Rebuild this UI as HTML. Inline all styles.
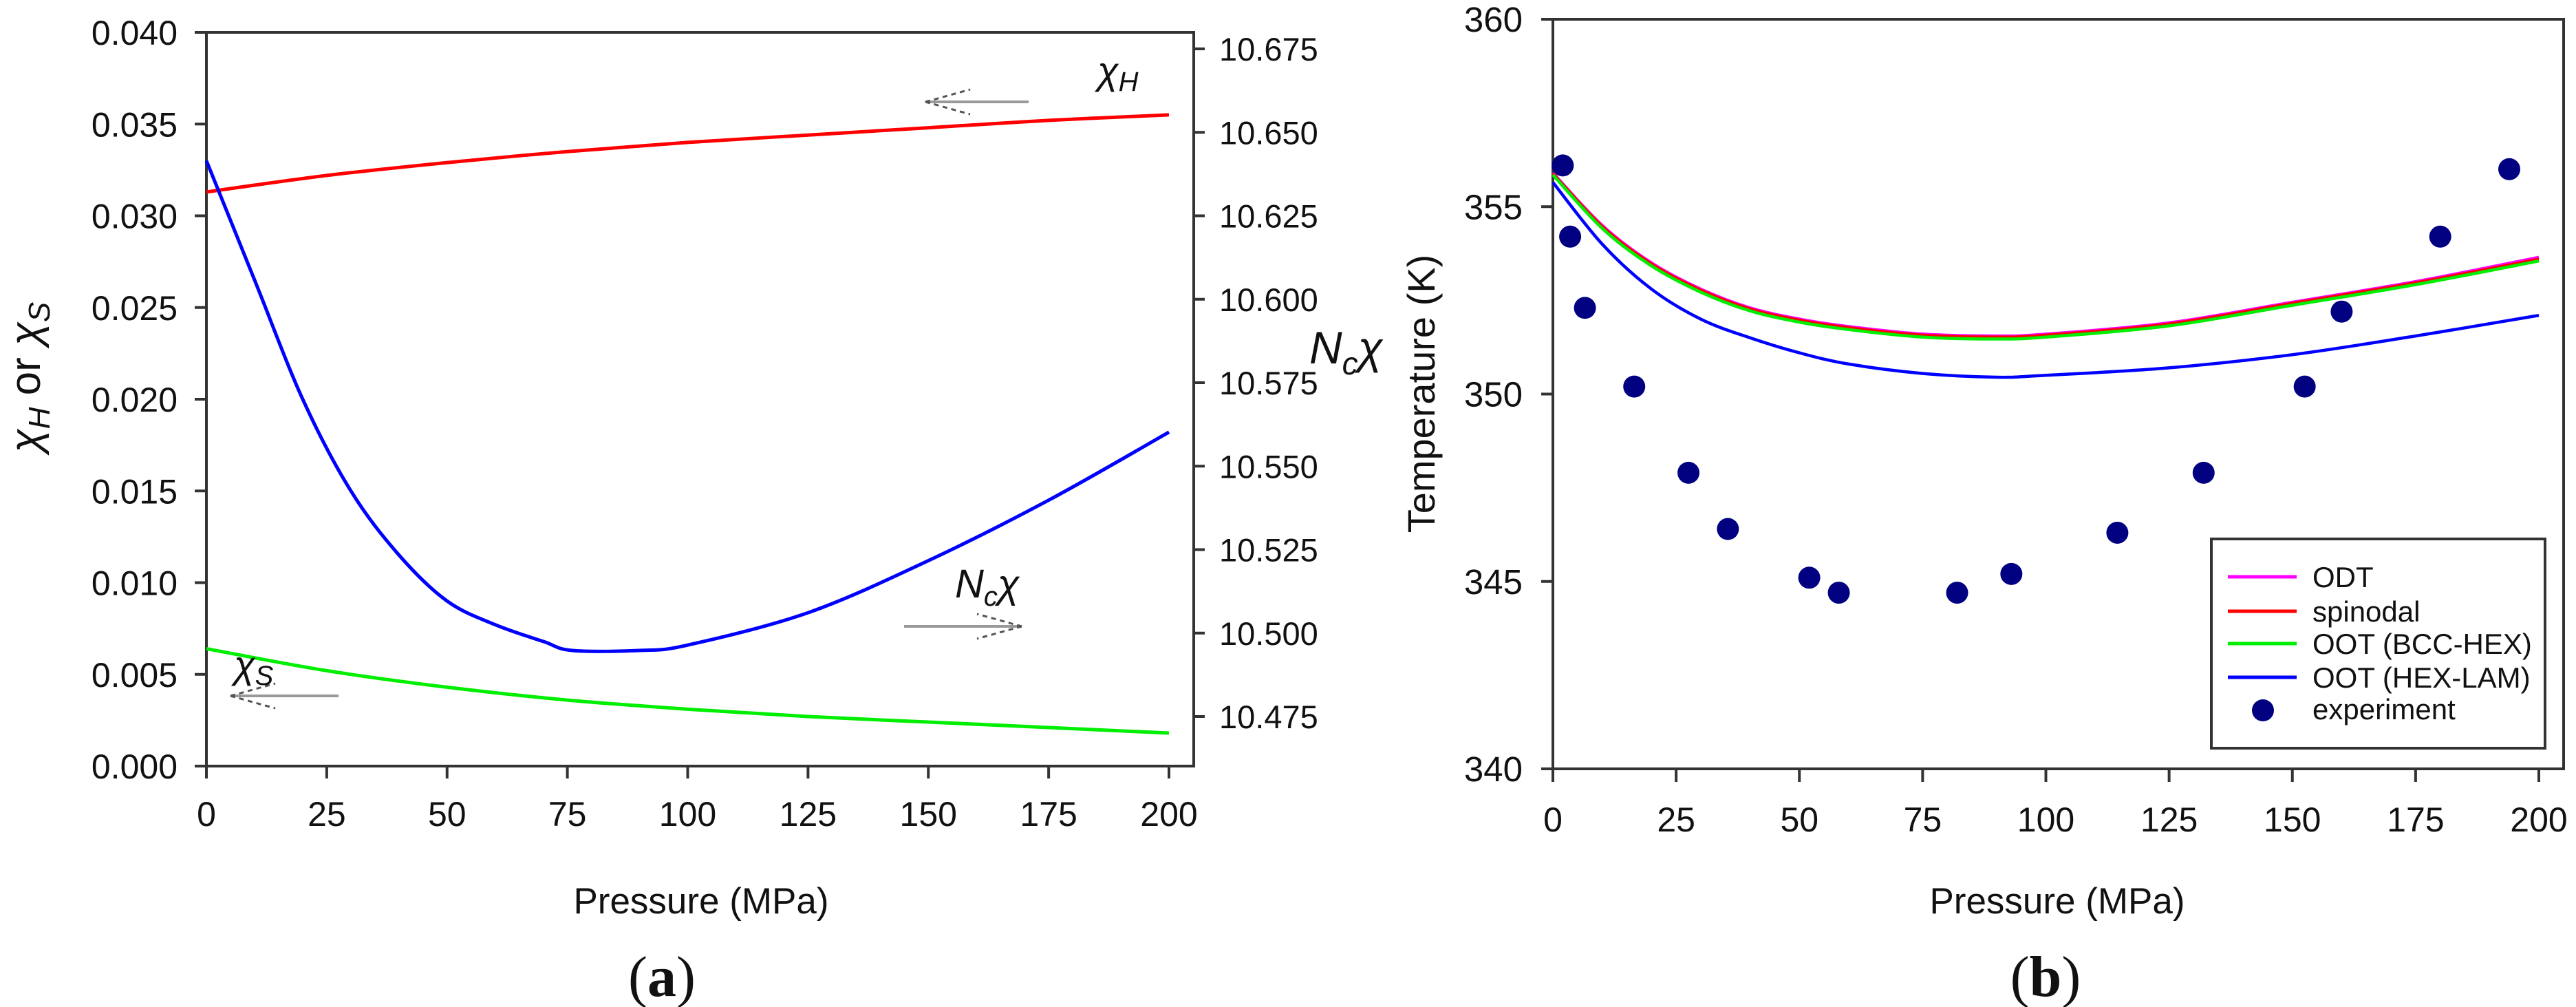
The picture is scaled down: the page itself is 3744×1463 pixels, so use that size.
<!DOCTYPE html>
<html><head><meta charset="utf-8">
<style>
html,body{margin:0;padding:0;background:#fff;}
svg{display:block;font-family:"Liberation Sans",Arial,sans-serif;}
</style></head>
<body>
<svg id="fig" width="3744" height="1463" viewBox="0 0 3744 1463" xmlns="http://www.w3.org/2000/svg">
  <rect width="3744" height="1463" fill="#fff"/>
  <g id="pa"></g>
  <g id="pb"></g>
</svg>
<script>
// ---------- Panel (a) data ----------
const aPressure = [0, 25, 50, 75, 100, 125, 150, 175, 200];
const chiH = [0.0313, 0.0322, 0.0329, 0.0335, 0.0340, 0.0344, 0.0348, 0.0352, 0.0355];
const chiS = [0.0064, 0.0052, 0.0043, 0.0036, 0.0031, 0.0027, 0.0024, 0.0021, 0.0018];
const ncPressure = [0, 10, 20, 30, 40, 50, 60, 70, 76, 90, 100, 125, 150, 175, 200];
const ncChi = [10.6415, 10.6058, 10.5701, 10.5426, 10.5234, 10.5096, 10.5025, 10.4975, 10.4948, 10.4948, 10.4964, 10.5061, 10.5217, 10.5398, 10.5602];
const aXTicks = [0, 25, 50, 75, 100, 125, 150, 175, 200];
const aYTicks = [0, 0.005, 0.010, 0.015, 0.020, 0.025, 0.030, 0.035, 0.040];
const aYTickLabels = ["0.000","0.005","0.010","0.015","0.020","0.025","0.030","0.035","0.040"];
const aY2Ticks = [10.475, 10.500, 10.525, 10.550, 10.575, 10.600, 10.625, 10.650, 10.675];
const aY2TickLabels = ["10.475","10.500","10.525","10.550","10.575","10.600","10.625","10.650","10.675"];

// ---------- Panel (b) data ----------
const bCurveP = [0, 10, 20, 30, 40, 50, 60, 75, 90, 100, 125, 150, 175, 200];
const odtT = [355.9, 354.5, 353.5, 352.8, 352.3, 352.0, 351.8, 351.6, 351.55, 351.6, 351.9, 352.45, 353.0, 353.65];
const spinodalT = [355.88, 354.47, 353.47, 352.77, 352.27, 351.97, 351.77, 351.57, 351.52, 351.57, 351.87, 352.42, 352.97, 353.6];
const bccHexT = [355.85, 354.42, 353.42, 352.72, 352.22, 351.92, 351.72, 351.52, 351.47, 351.52, 351.82, 352.37, 352.92, 353.55];
const hexLamT = [355.65, 354.0, 352.8, 352.0, 351.5, 351.1, 350.8, 350.55, 350.45, 350.5, 350.7, 351.05, 351.55, 352.1];
const expP = [2, 3.5, 6.5, 16.5, 27.5, 35.5, 52, 58, 82, 93, 114.5, 132, 152.5, 160, 180, 194];
const expT = [356.1, 354.2, 352.3, 350.2, 347.9, 346.4, 345.1, 344.7, 344.7, 345.2, 346.3, 347.9, 350.2, 352.2, 354.2, 356.0];
const bXTicks = [0, 25, 50, 75, 100, 125, 150, 175, 200];
const bYTicks = [340, 345, 350, 355, 360];
const bYTickLabels = ["340","345","350","355","360"];

const NS = "http://www.w3.org/2000/svg";
function mk(parent, tag, attrs, text) {
  const e = document.createElementNS(NS, tag);
  for (const k in attrs) e.setAttribute(k, attrs[k]);
  if (text !== undefined) e.textContent = text;
  parent.appendChild(e);
  return e;
}
function smoothPath(pts) {
  let d = "M" + pts[0][0].toFixed(1) + "," + pts[0][1].toFixed(1);
  for (let i = 0; i < pts.length - 1; i++) {
    const p0 = pts[Math.max(0, i - 1)], p1 = pts[i], p2 = pts[i + 1], p3 = pts[Math.min(pts.length - 1, i + 2)];
    const c1x = p1[0] + (p2[0] - p0[0]) / 6, c1y = p1[1] + (p2[1] - p0[1]) / 6;
    const c2x = p2[0] - (p3[0] - p1[0]) / 6, c2y = p2[1] - (p3[1] - p1[1]) / 6;
    d += " C" + c1x.toFixed(1) + "," + c1y.toFixed(1) + " " + c2x.toFixed(1) + "," + c2y.toFixed(1) + " " + p2[0].toFixed(1) + "," + p2[1].toFixed(1);
  }
  return d;
}
const AX = "#333";

// ================= Panel (a) =================
(function () {
  const g = document.getElementById("pa");
  const L = 300, R = 1735, T = 47, B = 1113, X0 = 300, X200 = 1699;
  const xa = p => X0 + (p / 200) * (X200 - X0);
  const ya = v => B - (v / 0.040) * (B - T);
  const ya2 = v => 71 + (10.675 - v) / 0.025 * 121.25;

  let e;
  e = mk(g, "rect", {x: L, y: T, width: R - L, height: B - T, fill: "none", stroke: AX, "stroke-width": 4});
  
  

  aXTicks.forEach(t => {
    const x = xa(t);
    e = mk(g, "line", {x1: x, y1: B, x2: x, y2: B + 18, stroke: AX, "stroke-width": 4});
    
    
    e = mk(g, "text", {x: x, y: 1200, "font-size": 50, "text-anchor": "middle", fill: "#111"}, String(t));
    
    
  });
  aYTicks.forEach((t, i) => {
    const y = ya(t);
    e = mk(g, "line", {x1: L - 17, y1: y, x2: L, y2: y, stroke: AX, "stroke-width": 4});
    
    
    e = mk(g, "text", {x: 258, y: y + 18, "font-size": 50, "text-anchor": "end", fill: "#111"}, aYTickLabels[i]);
    
    
  });
  aY2Ticks.forEach((t, i) => {
    const y = ya2(t);
    e = mk(g, "line", {x1: R, y1: y, x2: R + 16, y2: y, stroke: AX, "stroke-width": 4});
    
    
    e = mk(g, "text", {x: 1772, y: y + 17, "font-size": 47, "text-anchor": "start", fill: "#111"}, aY2TickLabels[i]);
    
    
  });

  e = mk(g, "path", {d: smoothPath(aPressure.map((p, i) => [xa(p), ya(chiH[i])])), fill: "none", stroke: "#ff0000", "stroke-width": 5});
  
  
  e = mk(g, "path", {d: smoothPath(aPressure.map((p, i) => [xa(p), ya(chiS[i])])), fill: "none", stroke: "#00ee00", "stroke-width": 5});
  
  
  e = mk(g, "path", {d: smoothPath(ncPressure.map((p, i) => [xa(p), ya2(ncChi[i])])), fill: "none", stroke: "#0000ff", "stroke-width": 5});
  
  

  // arrows
  function arrow(name, xTail, xTip, y) {
    const ag = mk(g, "g", {});
    
    
    mk(ag, "line", {x1: xTail, y1: y, x2: xTip, y2: y, stroke: "#999", "stroke-width": 4});
    const dir = xTip < xTail ? 1 : -1;
    mk(ag, "line", {x1: xTip, y1: y, x2: xTip + dir * 65, y2: y - 18, stroke: "#555", "stroke-width": 3, "stroke-dasharray": "7,6"});
    mk(ag, "line", {x1: xTip, y1: y, x2: xTip + dir * 65, y2: y + 18, stroke: "#555", "stroke-width": 3, "stroke-dasharray": "7,6"});
  }
  arrow("chi-h-arrow", 1495, 1345, 148);
  arrow("chi-s-arrow", 492, 335, 1011);
  arrow("nc-chi-arrow", 1314, 1485, 910);

  e = mk(g, "text", {x: 1595, y: 122, "font-size": 56, "font-style": "italic", fill: "#111"});
  
  
  e.innerHTML = 'χ<tspan font-size="40" dy="10">H</tspan>';
  e = mk(g, "text", {x: 340, y: 985, "font-size": 56, "font-style": "italic", fill: "#111"});
  
  
  e.innerHTML = 'χ<tspan font-size="40" dy="10">S</tspan>';
  e = mk(g, "text", {x: 1388, y: 868, "font-size": 58, "font-style": "italic", fill: "#111"});
  
  
  e.innerHTML = 'N<tspan font-size="40" dy="12">c</tspan><tspan dy="-12">χ</tspan>';

  e = mk(g, "text", {x: 1019, y: 1327, "font-size": 53, "text-anchor": "middle", fill: "#111"}, "Pressure (MPa)");
  
  
  e = mk(g, "text", {x: 58, y: 548, "font-size": 62, "text-anchor": "middle", fill: "#111", transform: "rotate(-90 58 548)"});
  
  
  e.innerHTML = '<tspan font-style="italic">χ</tspan><tspan font-size="44" font-style="italic" dy="14">H</tspan><tspan dy="-14">  or  </tspan><tspan font-style="italic">χ</tspan><tspan font-size="44" font-style="italic" dy="14">S</tspan>';
  e = mk(g, "text", {x: 1903, y: 528, "font-size": 66, "font-style": "italic", fill: "#111"});
  
  
  e.innerHTML = 'N<tspan font-size="46" dy="16">c</tspan><tspan dy="-16">χ</tspan>';
  e = mk(g, "text", {x: 962, y: 1447, "font-size": 84, "text-anchor": "middle", fill: "#111", "font-family": "Liberation Serif, serif"});
  
  
  e.innerHTML = '(<tspan font-weight="bold">a</tspan>)';
})();

// ================= Panel (b) =================
(function () {
  const g = document.getElementById("pb");
  const L = 2257, R = 3726, T = 28, B = 1117, X200 = 3690;
  const xb = p => L + (p / 200) * (X200 - L);
  const yb = v => B - (v - 340) / 20 * (B - T);
  let e;
  e = mk(g, "rect", {x: L, y: T, width: R - L, height: B - T, fill: "none", stroke: AX, "stroke-width": 4});
  
  

  bXTicks.forEach(t => {
    const x = xb(t);
    e = mk(g, "line", {x1: x, y1: B, x2: x, y2: B + 19, stroke: AX, "stroke-width": 4});
    
    
    e = mk(g, "text", {x: x, y: 1208, "font-size": 50, "text-anchor": "middle", fill: "#111"}, String(t));
    
    
  });
  bYTicks.forEach((t, i) => {
    const y = yb(t);
    e = mk(g, "line", {x1: L - 17, y1: y, x2: L, y2: y, stroke: AX, "stroke-width": 4});
    
    
    e = mk(g, "text", {x: 2213, y: y + 18, "font-size": 51, "text-anchor": "end", fill: "#111"}, bYTickLabels[i]);
    
    
  });

  const series = [
    ["odt-line", odtT, "#ff00ff"],
    ["spinodal-line", spinodalT, "#ff0000"],
    ["oot-bcc-hex-line", bccHexT, "#00ee00"],
    ["oot-hex-lam-line", hexLamT, "#0000ff"]
  ];
  series.forEach(s => {
    e = mk(g, "path", {d: smoothPath(bCurveP.map((p, i) => [xb(p), yb(s[1][i])])), fill: "none", stroke: s[2], "stroke-width": 4.5});
    
    
  });
  expP.forEach((p, i) => {
    e = mk(g, "circle", {cx: xb(p), cy: yb(expT[i]), r: 16, fill: "#000080"});
    
    
  });

  // legend
  const lg = mk(g, "g", {});
  
  
  mk(lg, "rect", {x: 3214, y: 783, width: 485, height: 304, fill: "#fff", stroke: AX, "stroke-width": 4});
  const entries = [["ODT", "#ff00ff", 838], ["spinodal", "#ff0000", 888], ["OOT (BCC-HEX)", "#00ee00", 935], ["OOT (HEX-LAM)", "#0000ff", 984]];
  entries.forEach(en => {
    const eg = mk(lg, "g", {});
    
    
    mk(eg, "line", {x1: 3238, y1: en[2], x2: 3338, y2: en[2], stroke: en[1], "stroke-width": 5});
    mk(eg, "text", {x: 3361, y: en[2] + 15, "font-size": 42, fill: "#111"}, en[0]);
  });
  const eg = mk(lg, "g", {});
  
  
  mk(eg, "circle", {cx: 3289, cy: 1032, r: 16, fill: "#000080"});
  mk(eg, "text", {x: 3361, y: 1045, "font-size": 42, fill: "#111"}, "experiment");

  e = mk(g, "text", {x: 2990, y: 1327, "font-size": 53, "text-anchor": "middle", fill: "#111"}, "Pressure (MPa)");
  
  
  e = mk(g, "text", {x: 2085, y: 572, "font-size": 56, "text-anchor": "middle", fill: "#111", transform: "rotate(-90 2085 572)"}, "Temperature (K)");
  
  
  e = mk(g, "text", {x: 2973, y: 1447, "font-size": 84, "text-anchor": "middle", fill: "#111", "font-family": "Liberation Serif, serif"});
  
  
  e.innerHTML = '(<tspan font-weight="bold">b</tspan>)';
})();
</script>
</body></html>
